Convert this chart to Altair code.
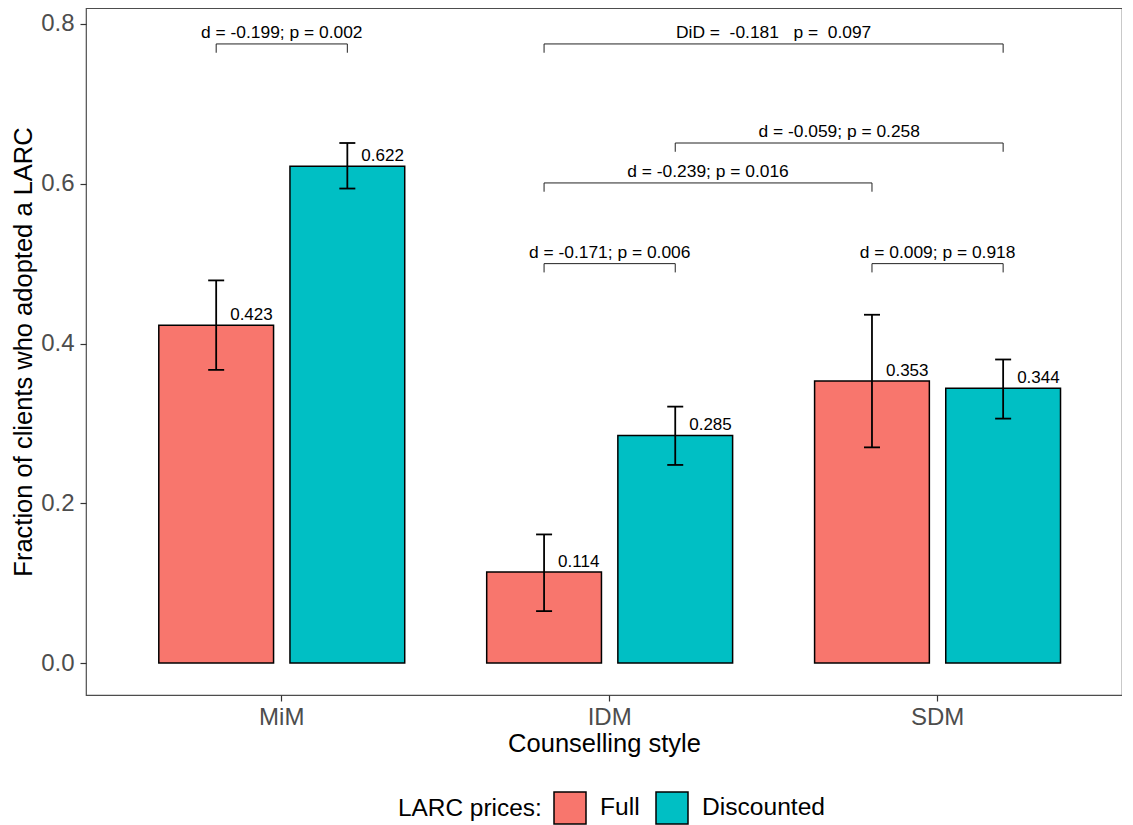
import altair as alt
import pandas as pd

FONT = "Liberation Sans"

# ---- data ----
styles = ["MiM", "IDM", "SDM"]
prices = ["Full", "Discounted"]
bar_style = ["MiM", "MiM", "IDM", "IDM", "SDM", "SDM"]
bar_price = ["Full", "Discounted", "Full", "Discounted", "Full", "Discounted"]
fraction = [0.423, 0.622, 0.114, 0.285, 0.353, 0.344]
ci_low = [0.367, 0.594, 0.065, 0.248, 0.270, 0.306]
ci_high = [0.479, 0.651, 0.161, 0.321, 0.436, 0.380]

# comparison brackets (x in category units: 1 = MiM, 2 = IDM, 3 = SDM)
br_xmin = [0.8, 1.8, 2.8, 1.8, 2.2, 1.8]
br_xmax = [1.2, 2.2, 3.2, 2.8, 3.2, 3.2]
br_y = [0.775, 0.500, 0.500, 0.601, 0.651, 0.775]
br_label = [
    "d = -0.199; p = 0.002",
    "d = -0.171; p = 0.006",
    "d = 0.009; p = 0.918",
    "d = -0.239; p = 0.016",
    "d = -0.059; p = 0.258",
    "DiD = \u00a0-0.181 \u00a0 p = \u00a00.097",
]

bars_df = pd.DataFrame({"style": bar_style, "price": bar_price,
                        "fraction": fraction, "lo": ci_low, "hi": ci_high})
br_df = pd.DataFrame({"xmin": br_xmin, "xmax": br_xmax, "y": br_y, "label": br_label})

W, H = 1036, 687
STEP = 327.9
LEFT_PAD = 0.097                       # outer padding on the left, in steps
TOTAL_PAD = W / STEP - 3               # total outer padding, in steps
PO = TOTAL_PAD / 2
ALIGN = LEFT_PAD / TOTAL_PAD
TIP = 0.011

yscale = alt.Scale(domain=[-0.04, 0.82], nice=False, zero=False)
yaxis = alt.Axis(values=[0, 0.2, 0.4, 0.6, 0.8], format=".1f",
                 title="Fraction of clients who adopted a LARC")

x_band = alt.X("style:N", sort=styles,
               scale=alt.Scale(domain=styles, paddingInner=0, paddingOuter=PO, align=ALIGN),
               axis=alt.Axis(title="Counselling style", labelAngle=0))
xo = alt.XOffset("price:N", sort=prices,
                 scale=alt.Scale(domain=prices, paddingInner=0.125, paddingOuter=0.3125))
color = alt.Color("price:N", sort=prices,
                  scale=alt.Scale(domain=prices, range=["#F8766D", "#00BFC4"]),
                  legend=alt.Legend(title="LARC prices:", orient="none", direction="horizontal",
                                    legendX=312, legendY=783, titleOrient="left"))

base = alt.Chart(bars_df)
bars = base.mark_bar(stroke="black", strokeWidth=1.5).encode(
    x=x_band, xOffset=xo,
    y=alt.Y("fraction:Q", scale=yscale, axis=yaxis),
    y2=alt.datum(0),
    color=color,
)
err = base.mark_rule(color="black", strokeWidth=1.8).encode(
    x=x_band, xOffset=xo,
    y=alt.Y("lo:Q", scale=yscale, axis=yaxis), y2="hi:Q",
)
cap_lo = base.mark_tick(color="black", size=16, thickness=1.8, opacity=1).encode(
    x=x_band, xOffset=xo, y=alt.Y("lo:Q", scale=yscale, axis=yaxis),
)
cap_hi = base.mark_tick(color="black", size=16, thickness=1.8, opacity=1).encode(
    x=x_band, xOffset=xo, y=alt.Y("hi:Q", scale=yscale, axis=yaxis),
)
vals = base.mark_text(align="left", baseline="alphabetic", dx=14, dy=-5,
                      fontSize=17, font=FONT, color="black").encode(
    x=x_band, xOffset=xo,
    y=alt.Y("fraction:Q", scale=yscale, axis=yaxis),
    text=alt.Text("fraction:Q", format=".3f"),
)
main = alt.layer(bars, err, cap_lo, cap_hi, vals)

q_lo = 0.5 - LEFT_PAD
xq_scale = alt.Scale(domain=[q_lo, q_lo + W / STEP], nice=False, zero=False)
bbase = alt.Chart(br_df)
bh = bbase.mark_rule(color="#222222", strokeWidth=1).encode(
    x=alt.X("xmin:Q", scale=xq_scale, axis=None), x2="xmax:Q",
    y=alt.Y("y:Q", scale=yscale, axis=yaxis),
)
btl = bbase.transform_calculate(ytip=f"datum.y - {TIP}").mark_rule(color="#222222", strokeWidth=1).encode(
    x=alt.X("xmin:Q", scale=xq_scale, axis=None),
    y=alt.Y("y:Q", scale=yscale, axis=yaxis), y2="ytip:Q",
)
btr = bbase.transform_calculate(ytip=f"datum.y - {TIP}").mark_rule(color="#222222", strokeWidth=1).encode(
    x=alt.X("xmax:Q", scale=xq_scale, axis=None),
    y=alt.Y("y:Q", scale=yscale, axis=yaxis), y2="ytip:Q",
)
btext = bbase.transform_calculate(xmid="(datum.xmin + datum.xmax) / 2").mark_text(
    align="center", baseline="alphabetic", dy=-6, fontSize=17.4, font=FONT, color="black"
).encode(
    x=alt.X("xmid:Q", scale=xq_scale, axis=None),
    y=alt.Y("y:Q", scale=yscale, axis=yaxis),
    text="label:N",
)
brk = alt.layer(bh, btl, btr, btext)

chart = (
    alt.layer(main, brk)
    .resolve_scale(x="independent")
    .properties(width=W, height=H, padding={"left": 3, "top": 0, "right": 0, "bottom": 0})
    .configure(font=FONT)
    .configure_view(stroke="#4D4D4D", strokeWidth=1.2)
    .configure_axis(domain=False, grid=False, labelFont=FONT, labelFontSize=24,
                    labelColor="#4D4D4D", tickColor="#333333", tickSize=6, tickWidth=1.2,
                    labelPadding=4, titleFont=FONT, titleFontSize=25.5, titleColor="black",
                    titleFontWeight="normal")
    .configure_axisY(titlePadding=4, labelPadding=6)
    .configure_axisX(titlePadding=2)
    .configure_legend(labelFont=FONT, titleFont=FONT, labelFontSize=24.6, titleFontSize=24.4,
                      titleFontWeight="normal", labelColor="black", titleColor="black",
                      symbolType="square", symbolSize=1024, symbolStrokeColor="black",
                      symbolStrokeWidth=1.5, labelOffset=13, columnPadding=13, titlePadding=11)
)

chart.save("out.html", embed_options={"renderer": "svg", "actions": False})
